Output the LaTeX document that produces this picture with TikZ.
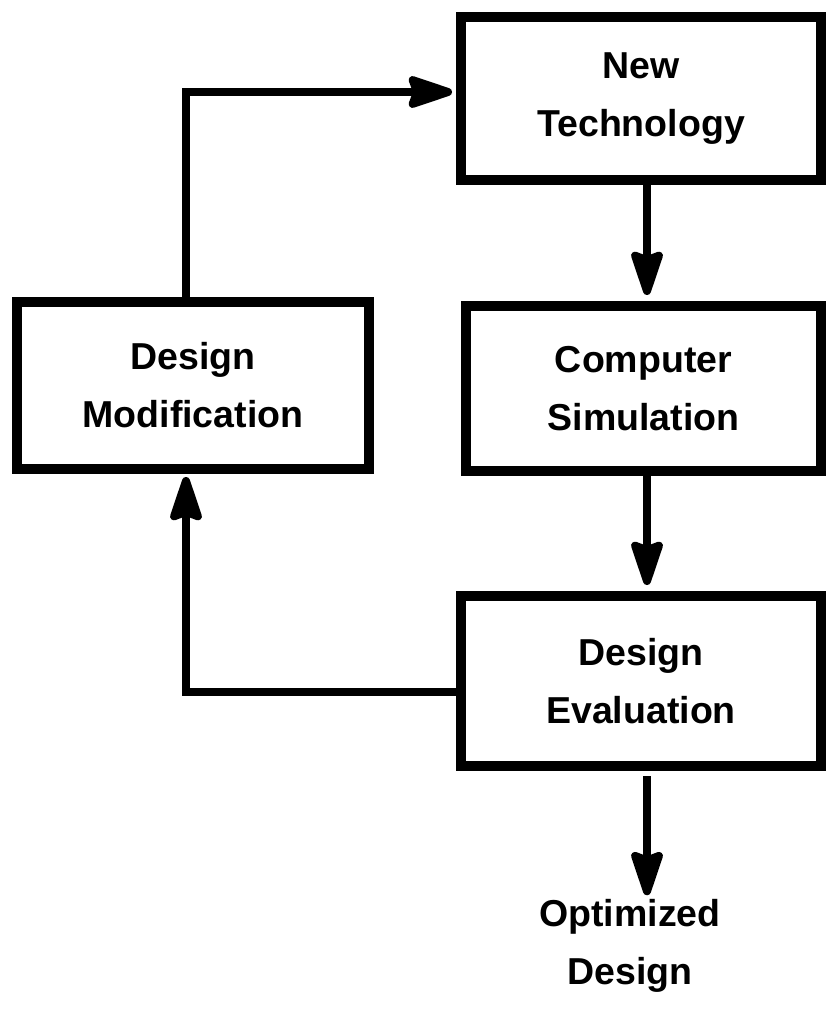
\documentclass[tikz,border=0pt]{standalone}
\usepackage{fontspec}
\setmainfont{Liberation Sans}
\usetikzlibrary{arrows.meta}
\tikzset{
  box/.style={draw, line width=10pt, minimum width=#1, align=center, inner sep=0pt,
    font=\fontsize{37.5}{58}\selectfont\bfseries},
  lbl/.style={align=center, inner sep=0pt, font=\fontsize{37.5}{58}\selectfont\bfseries},
  arr/.style={line width=8pt, -{Stealth[length=54pt, width=35pt, inset=6pt, round]}}
}
\begin{document}
\begin{tikzpicture}[x=1pt, y=-1pt]
\useasboundingbox (0,0) rectangle (828,1011);
\node[box=360pt, minimum height=163pt] (nt) at (641,98.5) {New\\Technology};
\node[box=355pt, minimum height=165pt] (cs) at (643.5,388.5) {Computer\\Simulation};
\node[box=352pt, minimum height=167pt] (dm) at (193,385.5) {Design\\Modification};
\node[box=360pt, minimum height=170pt] (de) at (641,681) {Design\\Evaluation};
\node[lbl] (od) at (630,946) {Optimized\\Design};
\coordinate (ax) at (647,0);
\coordinate (lx) at (186,0);
\coordinate (ty) at (0,92);
\coordinate (ey) at (0,692);
\draw[arr, shorten >=6pt] (nt.south -| ax) -- (cs.north -| ax);
\draw[arr, shorten >=6pt] (cs.south -| ax) -- (de.north -| ax);
\draw[arr, shorten <=5pt, shorten >=4pt] (de.south -| ax) -- (od.north -| ax);
\draw[arr, shorten >=3pt] (de.west |- ey) -| (dm.south -| lx);
\draw[arr, shorten >=4pt] (dm.north -| lx) |- (nt.west |- ty);
\end{tikzpicture}
\end{document}
